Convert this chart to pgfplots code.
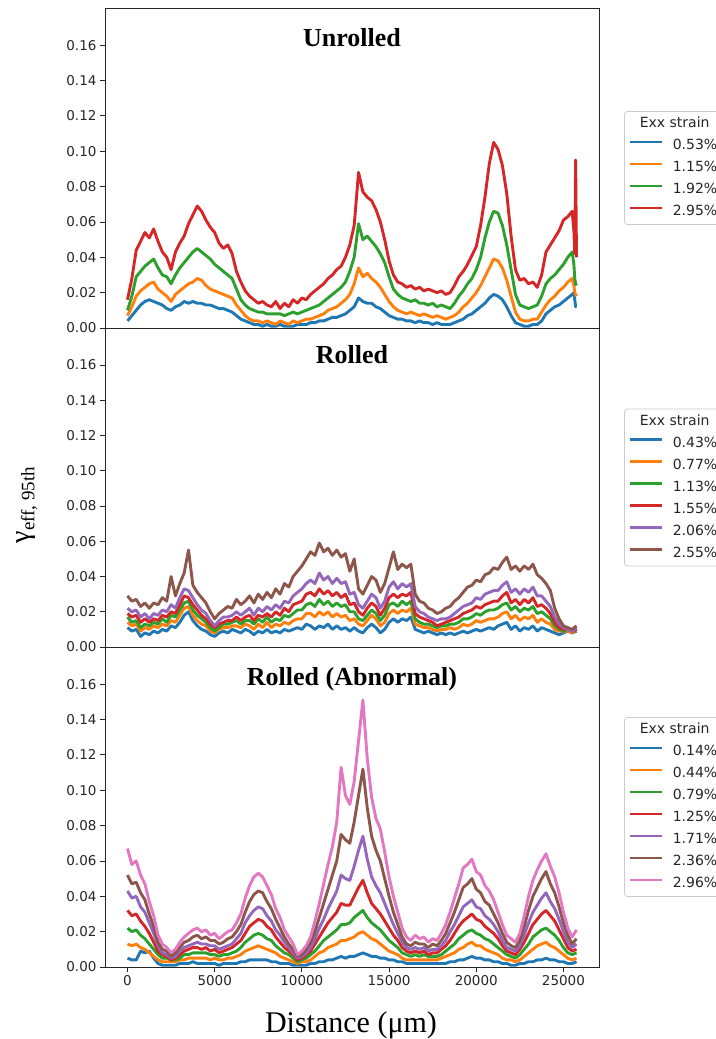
\documentclass[border=0pt]{standalone}
\usepackage{fontspec}
\usepackage{pgfplots}
\usepackage{pgfplotstable}
\pgfplotsset{compat=1.18}
\setmainfont{Liberation Serif}
\newfontfamily\dejavu{DejaVu Sans}
\definecolor{c0}{HTML}{1F77B4}
\definecolor{c1}{HTML}{FF7F0E}
\definecolor{c2}{HTML}{2CA02C}
\definecolor{c3}{HTML}{D62728}
\definecolor{c4}{HTML}{9467BD}
\definecolor{c5}{HTML}{8C564B}
\definecolor{c6}{HTML}{E377C2}

\pgfplotstableread{
x a b c d
0 0.004 0.007 0.010 0.016
250 0.007 0.012 0.018 0.028
500 0.010 0.018 0.029 0.044
750 0.013 0.021 0.032 0.049
1000 0.015 0.023 0.035 0.054
1250 0.016 0.025 0.037 0.051
1500 0.015 0.026 0.039 0.056
1750 0.014 0.022 0.034 0.049
2000 0.013 0.020 0.030 0.043
2250 0.011 0.018 0.029 0.040
2500 0.010 0.015 0.025 0.033
2750 0.012 0.019 0.030 0.043
3000 0.013 0.021 0.034 0.048
3250 0.015 0.023 0.037 0.052
3500 0.014 0.025 0.040 0.059
3750 0.015 0.026 0.043 0.064
4000 0.014 0.028 0.045 0.069
4250 0.014 0.027 0.043 0.066
4500 0.013 0.024 0.041 0.061
4750 0.013 0.022 0.039 0.057
5000 0.012 0.021 0.036 0.054
5250 0.011 0.020 0.034 0.048
5500 0.011 0.019 0.032 0.045
5750 0.010 0.018 0.030 0.047
6000 0.009 0.017 0.028 0.042
6250 0.007 0.013 0.022 0.032
6500 0.005 0.010 0.016 0.026
6750 0.004 0.007 0.013 0.021
7000 0.003 0.005 0.011 0.018
7250 0.002 0.004 0.010 0.016
7500 0.002 0.004 0.009 0.014
7750 0.001 0.003 0.009 0.015
8000 0.002 0.004 0.008 0.013
8250 0.001 0.003 0.008 0.012
8500 0.001 0.002 0.008 0.015
8750 0.002 0.004 0.008 0.011
9000 0.001 0.003 0.007 0.014
9250 0.001 0.002 0.008 0.012
9500 0.001 0.004 0.009 0.016
9750 0.002 0.003 0.008 0.014
10000 0.002 0.004 0.009 0.017
10250 0.002 0.005 0.010 0.016
10500 0.003 0.005 0.011 0.019
10750 0.003 0.006 0.012 0.021
11000 0.004 0.007 0.013 0.023
11250 0.004 0.008 0.015 0.025
11500 0.005 0.010 0.017 0.028
11750 0.006 0.011 0.019 0.030
12000 0.006 0.012 0.021 0.033
12250 0.007 0.014 0.023 0.035
12500 0.008 0.016 0.026 0.040
12750 0.010 0.019 0.032 0.047
13000 0.012 0.025 0.040 0.058
13250 0.017 0.034 0.059 0.088
13500 0.015 0.029 0.050 0.077
13750 0.014 0.031 0.052 0.074
14000 0.014 0.028 0.049 0.072
14250 0.012 0.026 0.046 0.067
14500 0.011 0.023 0.042 0.060
14750 0.009 0.019 0.037 0.050
15000 0.007 0.015 0.029 0.038
15250 0.006 0.012 0.022 0.030
15500 0.005 0.010 0.019 0.026
15750 0.005 0.009 0.017 0.025
16000 0.004 0.008 0.016 0.023
16250 0.004 0.009 0.015 0.024
16500 0.003 0.008 0.016 0.022
16750 0.004 0.007 0.014 0.023
17000 0.003 0.008 0.014 0.021
17250 0.003 0.007 0.013 0.022
17500 0.002 0.006 0.014 0.021
17750 0.003 0.007 0.012 0.020
18000 0.002 0.006 0.013 0.021
18250 0.002 0.005 0.012 0.019
18500 0.002 0.006 0.011 0.020
18750 0.003 0.007 0.014 0.024
19000 0.004 0.009 0.018 0.029
19250 0.005 0.012 0.021 0.032
19500 0.007 0.014 0.025 0.036
19750 0.008 0.017 0.028 0.041
20000 0.010 0.020 0.033 0.046
20250 0.012 0.024 0.040 0.058
20500 0.014 0.029 0.051 0.074
20750 0.017 0.034 0.060 0.093
21000 0.019 0.039 0.066 0.105
21250 0.018 0.038 0.065 0.101
21500 0.016 0.034 0.058 0.092
21750 0.012 0.027 0.047 0.076
22000 0.007 0.018 0.033 0.052
22250 0.003 0.009 0.019 0.033
22500 0.002 0.005 0.013 0.027
22750 0.001 0.004 0.012 0.028
23000 0.001 0.004 0.011 0.025
23250 0.002 0.005 0.012 0.026
23500 0.002 0.005 0.013 0.023
23750 0.004 0.009 0.018 0.030
24000 0.008 0.013 0.025 0.043
24250 0.010 0.016 0.028 0.047
24500 0.012 0.018 0.030 0.051
24750 0.013 0.021 0.033 0.055
25000 0.015 0.023 0.036 0.061
25250 0.017 0.026 0.040 0.063
25500 0.019 0.028 0.043 0.066
25600 0.020 0.024 0.036 0.055
25650 0.016 0.020 0.028 0.042
25700 0.012 0.019 0.025 0.095
25750 0.012 0.018 0.024 0.040
}\toptable

\pgfplotstableread{
x a b c d e f
0 0.011 0.014 0.017 0.019 0.022 0.029
250 0.009 0.012 0.014 0.017 0.020 0.026
500 0.010 0.013 0.015 0.018 0.021 0.027
750 0.006 0.009 0.011 0.014 0.017 0.023
1000 0.008 0.011 0.013 0.016 0.019 0.025
1250 0.007 0.010 0.012 0.014 0.016 0.022
1500 0.009 0.012 0.014 0.016 0.019 0.025
1750 0.008 0.011 0.013 0.015 0.018 0.024
2000 0.010 0.013 0.016 0.018 0.021 0.028
2250 0.009 0.012 0.014 0.017 0.020 0.026
2500 0.012 0.015 0.018 0.020 0.024 0.040
2750 0.011 0.014 0.017 0.019 0.022 0.029
3000 0.014 0.018 0.021 0.024 0.028 0.036
3250 0.018 0.022 0.025 0.029 0.033 0.042
3500 0.020 0.023 0.026 0.028 0.032 0.055
3750 0.015 0.018 0.021 0.024 0.028 0.035
4000 0.012 0.015 0.018 0.021 0.024 0.031
4250 0.010 0.013 0.016 0.018 0.021 0.028
4500 0.009 0.012 0.014 0.016 0.019 0.025
4750 0.007 0.009 0.011 0.013 0.015 0.020
5000 0.006 0.008 0.009 0.011 0.012 0.016
5250 0.008 0.010 0.011 0.013 0.015 0.019
5500 0.009 0.011 0.013 0.014 0.017 0.021
5750 0.008 0.011 0.013 0.015 0.017 0.023
6000 0.010 0.012 0.014 0.015 0.018 0.022
6250 0.009 0.012 0.015 0.017 0.020 0.027
6500 0.008 0.011 0.013 0.015 0.018 0.024
6750 0.010 0.013 0.015 0.017 0.020 0.026
7000 0.009 0.012 0.015 0.018 0.022 0.029
7250 0.007 0.010 0.013 0.015 0.018 0.025
7500 0.009 0.013 0.016 0.018 0.022 0.030
7750 0.008 0.011 0.014 0.017 0.020 0.027
8000 0.010 0.014 0.017 0.019 0.023 0.031
8250 0.008 0.011 0.014 0.017 0.021 0.028
8500 0.009 0.013 0.016 0.020 0.024 0.033
8750 0.008 0.012 0.015 0.018 0.022 0.030
9000 0.010 0.014 0.018 0.022 0.026 0.036
9250 0.009 0.013 0.017 0.020 0.025 0.034
9500 0.010 0.015 0.019 0.024 0.029 0.040
9750 0.011 0.016 0.021 0.025 0.031 0.043
10000 0.010 0.016 0.021 0.026 0.033 0.046
10250 0.013 0.019 0.024 0.030 0.036 0.050
10500 0.012 0.019 0.025 0.031 0.038 0.054
10750 0.010 0.017 0.023 0.029 0.036 0.052
11000 0.012 0.020 0.027 0.033 0.042 0.059
11250 0.011 0.018 0.024 0.030 0.038 0.054
11500 0.013 0.020 0.026 0.032 0.040 0.056
11750 0.010 0.017 0.023 0.029 0.036 0.052
12000 0.012 0.019 0.025 0.031 0.039 0.055
12250 0.010 0.017 0.023 0.028 0.036 0.051
12500 0.011 0.018 0.024 0.030 0.037 0.053
12750 0.009 0.015 0.020 0.024 0.030 0.043
13000 0.011 0.016 0.020 0.025 0.031 0.050
13250 0.009 0.013 0.016 0.020 0.024 0.033
13500 0.008 0.012 0.015 0.018 0.022 0.030
13750 0.011 0.015 0.018 0.022 0.026 0.035
14000 0.013 0.018 0.021 0.025 0.030 0.040
14250 0.011 0.016 0.019 0.023 0.028 0.038
14500 0.008 0.012 0.015 0.018 0.022 0.031
14750 0.010 0.014 0.018 0.022 0.026 0.036
15000 0.014 0.019 0.024 0.028 0.034 0.045
15250 0.016 0.021 0.025 0.030 0.037 0.054
15500 0.014 0.019 0.023 0.028 0.033 0.044
15750 0.016 0.021 0.026 0.030 0.036 0.047
16000 0.015 0.020 0.024 0.029 0.034 0.045
16250 0.017 0.022 0.026 0.031 0.036 0.047
16500 0.010 0.013 0.016 0.019 0.023 0.030
16750 0.009 0.012 0.014 0.017 0.020 0.026
17000 0.008 0.011 0.013 0.016 0.019 0.025
17250 0.009 0.011 0.013 0.015 0.017 0.022
17500 0.008 0.010 0.012 0.014 0.016 0.021
17750 0.007 0.009 0.011 0.012 0.015 0.019
18000 0.008 0.010 0.012 0.013 0.016 0.020
18250 0.007 0.010 0.012 0.014 0.016 0.022
18500 0.008 0.011 0.013 0.015 0.017 0.023
18750 0.007 0.010 0.013 0.016 0.019 0.026
19000 0.008 0.011 0.014 0.017 0.021 0.028
19250 0.009 0.013 0.016 0.019 0.023 0.031
19500 0.008 0.012 0.016 0.020 0.024 0.034
19750 0.009 0.013 0.017 0.021 0.025 0.035
20000 0.010 0.015 0.019 0.023 0.028 0.038
20250 0.009 0.014 0.018 0.022 0.027 0.037
20500 0.010 0.015 0.020 0.024 0.030 0.041
20750 0.011 0.016 0.021 0.025 0.031 0.042
21000 0.010 0.016 0.021 0.026 0.032 0.045
21250 0.012 0.017 0.022 0.026 0.032 0.044
21500 0.013 0.019 0.024 0.029 0.035 0.048
21750 0.014 0.020 0.025 0.031 0.037 0.051
22000 0.010 0.016 0.021 0.025 0.031 0.044
22250 0.012 0.018 0.023 0.027 0.033 0.046
22500 0.009 0.015 0.020 0.024 0.030 0.043
22750 0.011 0.017 0.022 0.027 0.033 0.046
23000 0.010 0.016 0.021 0.025 0.031 0.044
23250 0.012 0.018 0.023 0.028 0.034 0.047
23500 0.009 0.014 0.019 0.023 0.029 0.041
23750 0.011 0.016 0.020 0.024 0.029 0.039
24000 0.010 0.014 0.018 0.022 0.026 0.036
24250 0.009 0.013 0.016 0.019 0.023 0.032
24500 0.008 0.010 0.012 0.014 0.017 0.022
24750 0.007 0.009 0.010 0.011 0.013 0.016
25000 0.008 0.009 0.009 0.010 0.011 0.012
25250 0.009 0.009 0.010 0.010 0.010 0.011
25500 0.008 0.008 0.009 0.009 0.009 0.010
25750 0.009 0.010 0.010 0.010 0.011 0.012
}\midtable

\pgfplotstableread{
x a b c d e f g
0 0.005 0.013 0.022 0.032 0.043 0.052 0.067
250 0.004 0.012 0.020 0.029 0.039 0.047 0.058
500 0.004 0.013 0.021 0.030 0.040 0.048 0.060
750 0.009 0.011 0.018 0.026 0.034 0.042 0.052
1000 0.008 0.010 0.016 0.023 0.031 0.038 0.047
1250 0.009 0.008 0.013 0.019 0.025 0.030 0.037
1500 0.005 0.006 0.010 0.014 0.019 0.023 0.029
1750 0.002 0.004 0.007 0.009 0.012 0.014 0.018
2000 0.001 0.003 0.005 0.007 0.008 0.010 0.013
2250 0.001 0.003 0.005 0.006 0.007 0.009 0.011
2500 0.001 0.003 0.004 0.004 0.005 0.006 0.008
2750 0.001 0.003 0.004 0.005 0.006 0.008 0.010
3000 0.002 0.004 0.005 0.007 0.009 0.011 0.014
3250 0.002 0.004 0.007 0.009 0.011 0.014 0.017
3500 0.002 0.005 0.007 0.010 0.012 0.015 0.019
3750 0.003 0.005 0.008 0.011 0.013 0.017 0.021
4000 0.002 0.005 0.008 0.011 0.014 0.018 0.022
4250 0.002 0.005 0.008 0.010 0.013 0.016 0.020
4500 0.002 0.005 0.008 0.011 0.013 0.017 0.021
4750 0.002 0.004 0.007 0.009 0.012 0.015 0.018
5000 0.002 0.005 0.007 0.010 0.012 0.015 0.019
5250 0.001 0.004 0.006 0.008 0.010 0.013 0.016
5500 0.002 0.004 0.007 0.009 0.011 0.014 0.018
5750 0.002 0.005 0.007 0.010 0.012 0.016 0.020
6000 0.002 0.005 0.008 0.011 0.013 0.017 0.021
6250 0.002 0.006 0.009 0.013 0.016 0.020 0.025
6500 0.003 0.007 0.011 0.015 0.019 0.024 0.030
6750 0.003 0.009 0.014 0.019 0.025 0.031 0.039
7000 0.004 0.010 0.016 0.023 0.029 0.037 0.046
7250 0.004 0.011 0.018 0.025 0.032 0.041 0.051
7500 0.004 0.012 0.019 0.027 0.034 0.043 0.053
7750 0.004 0.011 0.018 0.026 0.033 0.042 0.051
8000 0.004 0.010 0.016 0.023 0.029 0.037 0.046
8250 0.003 0.009 0.015 0.021 0.026 0.033 0.041
8500 0.003 0.008 0.012 0.017 0.021 0.027 0.033
8750 0.002 0.006 0.010 0.014 0.018 0.022 0.028
9000 0.002 0.005 0.008 0.011 0.014 0.017 0.021
9250 0.002 0.004 0.007 0.009 0.011 0.013 0.017
9500 0.001 0.003 0.005 0.007 0.008 0.010 0.013
9750 0.001 0.002 0.003 0.004 0.005 0.006 0.007
10000 0.001 0.003 0.004 0.005 0.006 0.007 0.009
10250 0.001 0.003 0.005 0.007 0.008 0.010 0.012
10500 0.002 0.004 0.007 0.009 0.011 0.014 0.017
10750 0.002 0.006 0.009 0.013 0.016 0.020 0.026
11000 0.003 0.008 0.012 0.017 0.022 0.028 0.036
11250 0.003 0.009 0.015 0.021 0.027 0.036 0.047
11500 0.004 0.011 0.017 0.025 0.033 0.044 0.058
11750 0.004 0.012 0.019 0.028 0.038 0.052 0.068
12000 0.005 0.013 0.021 0.031 0.043 0.060 0.082
12250 0.006 0.015 0.024 0.036 0.052 0.075 0.113
12500 0.005 0.015 0.024 0.035 0.050 0.072 0.097
12750 0.006 0.016 0.025 0.035 0.049 0.070 0.092
13000 0.006 0.017 0.028 0.040 0.057 0.082 0.105
13250 0.007 0.019 0.030 0.045 0.066 0.097 0.128
13500 0.008 0.020 0.032 0.049 0.074 0.112 0.151
13750 0.007 0.018 0.028 0.042 0.061 0.090 0.118
14000 0.006 0.016 0.025 0.036 0.051 0.074 0.096
14250 0.006 0.015 0.023 0.033 0.046 0.066 0.084
14500 0.005 0.013 0.021 0.030 0.042 0.060 0.078
14750 0.005 0.011 0.018 0.026 0.036 0.050 0.065
15000 0.004 0.009 0.015 0.022 0.030 0.040 0.051
15250 0.004 0.008 0.013 0.018 0.024 0.031 0.040
15500 0.003 0.007 0.011 0.015 0.019 0.024 0.031
15750 0.003 0.005 0.008 0.011 0.014 0.017 0.022
16000 0.002 0.004 0.007 0.009 0.011 0.013 0.017
16250 0.002 0.004 0.006 0.008 0.010 0.012 0.015
16500 0.002 0.004 0.007 0.009 0.011 0.014 0.018
16750 0.002 0.004 0.006 0.008 0.010 0.013 0.016
17000 0.002 0.004 0.007 0.009 0.011 0.013 0.017
17250 0.002 0.004 0.006 0.007 0.009 0.011 0.014
17500 0.002 0.004 0.006 0.008 0.010 0.013 0.016
17750 0.002 0.004 0.006 0.008 0.010 0.012 0.015
18000 0.002 0.005 0.007 0.010 0.012 0.015 0.019
18250 0.002 0.006 0.009 0.012 0.015 0.019 0.024
18500 0.003 0.007 0.011 0.015 0.020 0.025 0.031
18750 0.003 0.008 0.013 0.019 0.024 0.031 0.039
19000 0.004 0.010 0.016 0.023 0.029 0.038 0.047
19250 0.004 0.011 0.018 0.026 0.034 0.045 0.056
19500 0.005 0.013 0.020 0.028 0.036 0.047 0.058
19750 0.006 0.014 0.021 0.030 0.038 0.050 0.061
20000 0.005 0.012 0.019 0.027 0.034 0.044 0.054
20250 0.005 0.012 0.018 0.026 0.033 0.042 0.052
20500 0.004 0.010 0.016 0.023 0.029 0.037 0.046
20750 0.004 0.009 0.015 0.021 0.027 0.035 0.043
21000 0.003 0.008 0.013 0.019 0.024 0.030 0.038
21250 0.003 0.007 0.011 0.016 0.020 0.025 0.031
21500 0.002 0.005 0.009 0.012 0.015 0.019 0.024
21750 0.002 0.004 0.007 0.009 0.011 0.014 0.018
22000 0.001 0.004 0.006 0.008 0.010 0.012 0.016
22250 0.001 0.003 0.005 0.007 0.009 0.011 0.014
22500 0.002 0.004 0.007 0.010 0.012 0.015 0.019
22750 0.002 0.006 0.010 0.014 0.018 0.023 0.029
23000 0.003 0.008 0.013 0.019 0.025 0.032 0.040
23250 0.003 0.010 0.017 0.024 0.031 0.040 0.049
23500 0.004 0.012 0.019 0.027 0.035 0.045 0.055
23750 0.004 0.013 0.021 0.030 0.039 0.050 0.060
24000 0.005 0.014 0.022 0.032 0.042 0.054 0.064
24250 0.004 0.012 0.020 0.029 0.037 0.047 0.057
24500 0.004 0.011 0.018 0.026 0.033 0.042 0.051
24750 0.003 0.009 0.015 0.021 0.027 0.034 0.042
25000 0.003 0.007 0.011 0.016 0.020 0.025 0.031
25250 0.002 0.005 0.008 0.011 0.014 0.018 0.022
25500 0.002 0.004 0.007 0.009 0.011 0.013 0.017
25750 0.003 0.005 0.008 0.010 0.013 0.016 0.021
}\bottable

\tikzset{ttl/.style={anchor=base, yshift=-38pt, font=\bfseries\fontsize{26}{30}\selectfont}}

\pgfplotsset{
  panel/.style={
    scale only axis, width=494pt,
    xmin=-1290, xmax=27040, ymin=0, ymax=0.181,
    scaled x ticks=false, scaled y ticks=false,
    axis line style={line width=0.8pt, black!85},
    tick align=outside, tick pos=left,
    major tick length=5pt,
    every tick/.style={black!85, line width=0.8pt},
    ytick={0,0.02,0.04,0.06,0.08,0.1,0.12,0.14,0.16},
    yticklabels={0.00,0.02,0.04,0.06,0.08,0.10,0.12,0.14,0.16},
    ticklabel style={font=\dejavu\fontsize{13.5}{16}\selectfont, text=black!85},
    legend cell align=left,
    legend style={at={(rel axis cs:1,0.5)}, anchor=west, xshift=25pt,
      draw=black!20, line width=0.8pt, rounded corners=3pt, fill=white,
      font=\dejavu\fontsize{14}{16}\selectfont, text=black!85,
      inner xsep=4pt, inner ysep=6pt, row sep=9pt,
      nodes={inner sep=0pt, text height=10pt, text depth=3pt},
      /tikz/every odd column/.append style={column sep=10pt}},
    legend image code/.code={\draw[#1, line width=2.4pt] (0pt,4pt) -- (32pt,4pt);},
    every axis plot/.append style={line width=2.9pt, line join=round},
  },
}

\begin{document}
\begin{tikzpicture}
\begin{axis}[panel, height=320pt, at={(105pt,-8pt)}, anchor=north west, xtick=\empty]
\addlegendimage{empty legend}\addlegendentry{\hspace*{-33pt}Exx strain}
\addplot[c0] table[x=x,y=a]{\toptable};\addlegendentry{0.53\%}
\addplot[c1] table[x=x,y=b]{\toptable};\addlegendentry{1.15\%}
\addplot[c2] table[x=x,y=c]{\toptable};\addlegendentry{1.92\%}
\addplot[c3] table[x=x,y=d]{\toptable};\addlegendentry{2.95\%}
\node[ttl] at (rel axis cs:0.5,1) {Unrolled};
\end{axis}
\begin{axis}[panel, height=319pt, at={(105pt,-328pt)}, anchor=north west, xtick=\empty]
\addlegendimage{empty legend}\addlegendentry{\hspace*{-33pt}Exx strain}
\addplot[c0] table[x=x,y=a]{\midtable};\addlegendentry{0.43\%}
\addplot[c1] table[x=x,y=b]{\midtable};\addlegendentry{0.77\%}
\addplot[c2] table[x=x,y=c]{\midtable};\addlegendentry{1.13\%}
\addplot[c3] table[x=x,y=d]{\midtable};\addlegendentry{1.55\%}
\addplot[c4] table[x=x,y=e]{\midtable};\addlegendentry{2.06\%}
\addplot[c5] table[x=x,y=f]{\midtable};\addlegendentry{2.55\%}
\node[ttl, yshift=3pt] at (rel axis cs:0.5,1) {Rolled};
\end{axis}
\begin{axis}[panel, height=320pt, at={(105pt,-647pt)}, anchor=north west,
  xtick={0,5000,10000,15000,20000,25000},
  xticklabels={0,5000,10000,15000,20000,25000}]
\addlegendimage{empty legend}\addlegendentry{\hspace*{-33pt}Exx strain}
\addplot[c0] table[x=x,y=a]{\bottable};\addlegendentry{0.14\%}
\addplot[c1] table[x=x,y=b]{\bottable};\addlegendentry{0.44\%}
\addplot[c2] table[x=x,y=c]{\bottable};\addlegendentry{0.79\%}
\addplot[c3] table[x=x,y=d]{\bottable};\addlegendentry{1.25\%}
\addplot[c4] table[x=x,y=e]{\bottable};\addlegendentry{1.71\%}
\addplot[c5] table[x=x,y=f]{\bottable};\addlegendentry{2.36\%}
\addplot[c6] table[x=x,y=g]{\bottable};\addlegendentry{2.96\%}
\node[ttl] at (rel axis cs:0.5,1) {Rolled (Abnormal)};
\end{axis}
\node[anchor=base, font=\fontsize{30}{34}\selectfont] at (351pt,-1032pt) {Distance (μm)};
\node[rotate=90, anchor=center] at (27pt,-505pt) {{\fontsize{28}{30}\selectfont γ}\raisebox{-5pt}{\fontsize{19}{21}\selectfont eff, 95th}};
\pgfresetboundingbox
\path[use as bounding box] (0,0) rectangle (715pt,-1039pt);
\end{tikzpicture}
\end{document}
